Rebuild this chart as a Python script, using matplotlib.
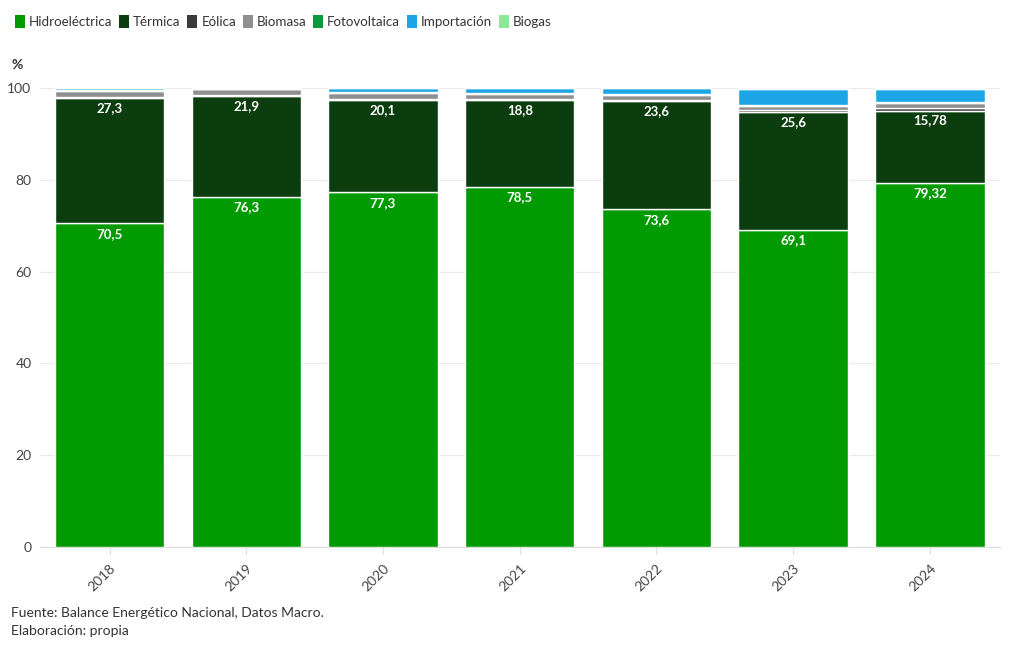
import matplotlib.pyplot as plt
from matplotlib.patches import Patch
import numpy as np

# ----------------- Data -----------------
years = ['2018', '2019', '2020', '2021', '2022', '2023', '2024']
hidro = [70.5, 76.3, 77.3, 78.5, 73.6, 69.1, 79.32]
termica = [27.3, 21.9, 20.1, 18.8, 23.6, 25.6, 15.78]
eolica = [0.3, 0.3, 0.2, 0.3, 0.2, 0.5, 0.6]
biomasa = [1.2, 1.2, 1.3, 1.0, 1.0, 0.9, 1.0]
fotovoltaica = [0.2, 0.2, 0.3, 0.4, 0.3, 0.3, 0.3]
importacion = [0.6, 0.1, 0.8, 1.0, 1.3, 3.5, 2.9]
biogas = [0.0, 0.0, 0.0, 0.0, 0.0, 0.1, 0.1]

hidro_lbl = ['70,5', '76,3', '77,3', '78,5', '73,6', '69,1', '79,32']
termica_lbl = ['27,3', '21,9', '20,1', '18,8', '23,6', '25,6', '15,78']

series = [
    ('Hidroeléctrica', hidro, '#029a02'),
    ('Térmica', termica, '#0c3d0e'),
    ('Eólica', eolica, '#3a3a3a'),
    ('Biomasa', biomasa, '#8f8f8f'),
    ('Fotovoltaica', fotovoltaica, '#0b9b3c'),
    ('Importación', importacion, '#1ca6e8'),
    ('Biogas', biogas, '#8ee89a'),
]

plt.rcParams['font.family'] = ['Lato', 'DejaVu Sans']

fig = plt.figure(figsize=(10.2, 6.5), dpi=100)
ax = fig.add_axes([0.039, 0.1585, 0.941, 0.706])

x = np.arange(len(years))
bottom = np.zeros(len(years))
for name, vals, color in series:
    vals = np.array(vals)
    ax.bar(x, vals, 0.8, bottom=bottom, color=color, edgecolor='white',
           linewidth=1, label=name, zorder=3)
    bottom += vals

# value labels at the top of the two main segments
for i in range(len(years)):
    ax.annotate(hidro_lbl[i], (x[i], hidro[i]), xytext=(0, -7.5),
                textcoords='offset points', ha='center', va='center',
                color='white', fontsize=9.5, fontweight='bold', zorder=4)
    ax.annotate(termica_lbl[i], (x[i], hidro[i] + termica[i]),
                xytext=(0, -7), textcoords='offset points', ha='center',
                va='center', color='white', fontsize=9.5, fontweight='bold',
                zorder=4)

ax.set_xlim(-0.51, 6.51)
ax.set_ylim(0, 100)
ax.set_yticks([0, 20, 40, 60, 80, 100])
ax.set_xticks(x)
ax.set_xticklabels(years, rotation=45, ha='right', rotation_mode='anchor')
ax.tick_params(axis='y', length=0, labelsize=10, labelcolor='#444444', pad=6)
ax.tick_params(axis='x', length=5, color='#dddddd', labelsize=10,
               labelcolor='#444444', pad=6)
for s in ['top', 'right', 'left']:
    ax.spines[s].set_visible(False)
ax.spines['bottom'].set_color('#dddddd')
ax.yaxis.grid(True, color='#ececec', linewidth=1, zorder=0)
ax.xaxis.grid(False)

# legend
handles = [Patch(facecolor=c, edgecolor='none', label=n) for n, v, c in series]
fig.legend(handles=handles, loc='upper left', bbox_to_anchor=(0.003, 0.995),
           ncol=7, frameon=False, fontsize=9.6, handlelength=0.75,
           handleheight=1.1, handletextpad=0.3, columnspacing=0.5,
           labelcolor='#333333')

fig.text(0.011, 0.9, '%', fontsize=10, color='#333333', fontweight='bold',
         va='center')
fig.text(0.011, 0.057, 'Fuente: Balance Energético Nacional, Datos Macro.',
         fontsize=10, color='#333333', va='center')
fig.text(0.011, 0.029, 'Elaboración: propia', fontsize=10, color='#333333',
         va='center')

plt.savefig('out.png', dpi=100)
